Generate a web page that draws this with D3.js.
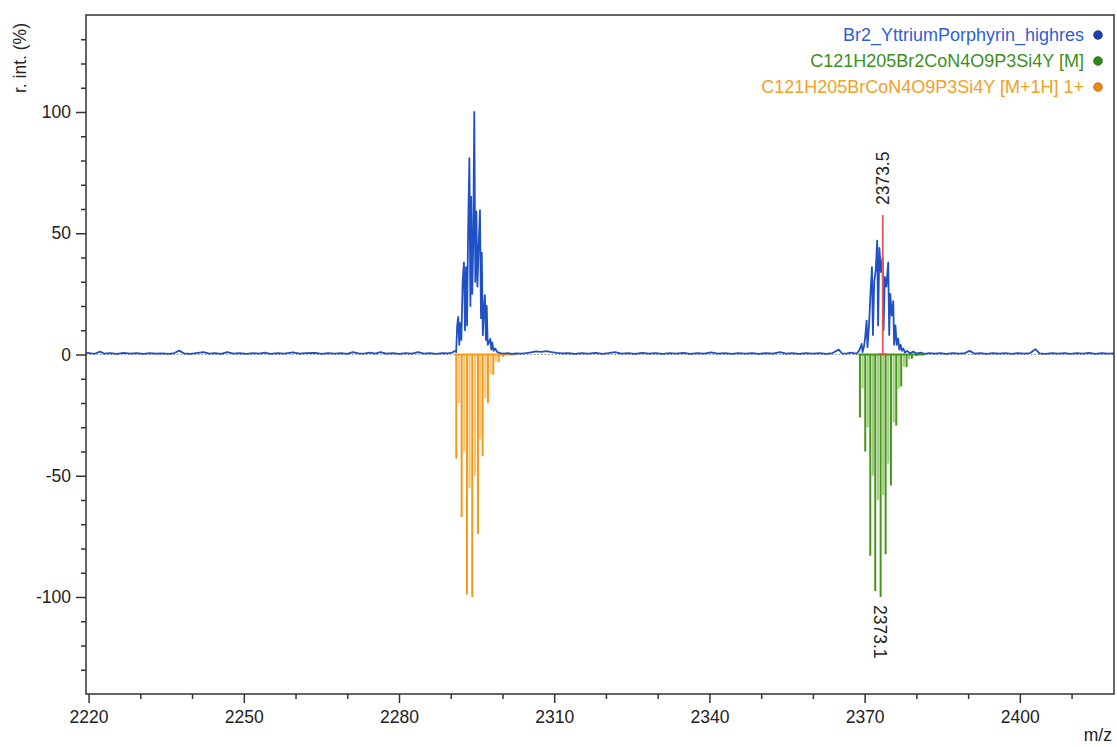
<!DOCTYPE html>
<html><head><meta charset="utf-8">
<script src="https://cdn.jsdelivr.net/npm/d3@7"></script>
<style>
html,body{margin:0;padding:0;background:#fff;}
svg{display:block;font-family:"Liberation Sans",Arial,sans-serif;}
</style></head>
<body>
<svg id="chart" width="1117" height="747"></svg>
<script>
// ---------------- DATA ----------------
const seriesNames = ["Br2_YttriumPorphyrin_highres", "C121H205Br2CoN4O9P3Si4Y [M]", "C121H205BrCoN4O9P3Si4Y [M+1H] 1+"];
const xMajorTicks = [2220, 2250, 2280, 2310, 2340, 2370, 2400];
const xMinorTicks = [2230, 2240, 2260, 2270, 2290, 2300, 2320, 2330, 2350, 2360, 2380, 2390, 2410];
const yMajorTicks = [-100, -50, 0, 50, 100];
const yMinorTicks = [-130, -120, -110, -90, -80, -70, -60, -40, -30, -20, -10, 10, 20, 30, 40, 60, 70, 80, 90, 110, 120, 130];

// measured spectrum (profile), [m/z, r. int. %]
const measuredBase1 = [[2219.5,0.8],[2220.5,0.5],[2221.3,0.4],[2222.2,1.2],[2223.0,0.4],[2224.2,0.6],[2225.5,0.3],[2226.8,0.7],[2228.0,0.4],[2229.3,0.6],[2230.6,0.3],[2231.8,0.6],[2233.0,0.4],[2234.3,0.5],[2235.6,0.3],[2236.6,0.6],[2237.5,1.6],[2238.4,0.5],[2239.6,0.3],[2240.8,0.6],[2242.2,1.0],[2243.3,0.4],[2244.5,0.6],[2245.6,0.3],[2246.8,1.0],[2248.0,0.4],[2249.2,0.6],[2250.5,0.3],[2251.7,0.6],[2253.0,0.4],[2254.0,0.8],[2255.2,0.3],[2256.5,0.6],[2257.8,0.4],[2259.5,0.9],[2260.8,0.4],[2262.0,0.6],[2263.8,0.7],[2265.0,0.3],[2266.3,0.6],[2267.6,0.4],[2268.8,0.6],[2270.0,0.3],[2271.1,1.0],[2272.3,0.4],[2273.4,0.5],[2274.4,0.8],[2275.4,0.4],[2276.4,1.0],[2277.5,0.4],[2278.8,0.6],[2280.0,0.3],[2281.3,0.6],[2282.5,0.4],[2283.7,1.0],[2284.8,0.4],[2286.0,0.6],[2287.2,0.3],[2288.4,0.6],[2289.5,0.5],[2290.4,0.9]];
const measuredPeak1 = [[2290.8,1.5],[2291.05,1.0],[2291.25,12],[2291.45,15.5],[2291.65,4],[2291.85,13],[2292.05,6],[2292.3,30],[2292.55,38],[2292.75,10],[2292.95,36],[2293.15,12],[2293.35,50],[2293.6,81],[2293.8,20],[2293.95,65],[2294.15,25],[2294.35,45],[2294.55,100],[2294.75,30],[2294.95,59],[2295.15,28],[2295.4,45],[2295.65,59.5],[2295.85,15],[2296.0,42],[2296.2,8],[2296.4,18],[2296.6,24.5],[2296.8,6],[2296.95,20],[2297.15,4],[2297.4,5],[2297.65,6.5],[2297.85,2],[2298.0,5],[2298.3,1.5],[2298.6,2.5]];
const measuredBase2 = [[2299.0,1.0],[2299.6,0.6],[2300.3,0.4],[2301.0,0.6],[2301.8,0.3],[2302.6,0.5],[2303.5,0.4],[2304.5,0.6],[2305.5,0.9],[2306.5,1.3],[2307.5,1.1],[2308.5,1.4],[2309.5,1.0],[2310.5,0.7],[2311.5,0.5],[2312.7,0.6],[2314.0,0.3],[2315.3,0.6],[2316.6,0.4],[2318.0,0.7],[2319.3,0.3],[2320.5,0.6],[2321.7,1.0],[2323.0,0.4],[2324.3,0.6],[2325.6,0.3],[2327.0,0.7],[2328.3,0.4],[2329.6,0.6],[2331.0,0.3],[2332.3,0.6],[2333.6,0.4],[2335.0,0.7],[2336.3,0.3],[2337.6,0.6],[2339.0,0.4],[2340.3,0.9],[2341.6,0.4],[2343.0,0.6],[2344.3,0.3],[2345.6,0.6],[2347.0,0.4],[2348.3,0.6],[2349.6,0.3],[2351.0,0.6],[2352.3,0.4],[2353.6,1.0],[2354.8,0.4],[2356.0,0.6],[2357.3,0.3],[2358.6,0.6],[2360.0,0.4],[2361.3,0.6],[2362.6,0.3],[2363.8,0.6],[2365.0,2.0],[2365.6,0.5],[2366.5,0.4],[2367.3,0.8],[2368.0,0.5]];
const measuredPeak2 = [[2368.5,0.5],[2368.9,1.5],[2369.2,3],[2369.42,4.4],[2369.6,1],[2369.9,3.5],[2370.15,8],[2370.38,14],[2370.55,3],[2370.85,12],[2371.15,26],[2371.41,36],[2371.6,8],[2371.85,30],[2372.15,35],[2372.43,47],[2372.6,12],[2372.85,44],[2373.15,34],[2373.47,40],[2373.65,10],[2373.9,32],[2374.2,28],[2374.56,38],[2374.75,8],[2374.95,25],[2375.25,16],[2375.53,22],[2375.7,4],[2375.95,12],[2376.2,4],[2376.49,6.5],[2376.7,2],[2376.95,4],[2377.2,1.5],[2377.46,2.5],[2377.8,0.8]];
const measuredBase3 = [[2378.2,1.5],[2378.8,0.5],[2379.4,1.2],[2380.0,0.4],[2380.8,0.8],[2381.6,0.3],[2382.5,0.6],[2383.5,0.4],[2384.6,0.6],[2385.8,0.3],[2387.0,0.6],[2388.2,0.4],[2389.4,0.6],[2390.3,1.5],[2391.2,0.4],[2392.4,0.6],[2393.6,0.3],[2394.8,0.6],[2396.0,0.4],[2397.2,0.6],[2398.4,0.3],[2399.6,0.6],[2400.8,0.4],[2402.0,0.6],[2403.0,2.2],[2403.8,0.5],[2405.0,0.3],[2406.2,0.6],[2407.4,0.4],[2408.6,0.6],[2409.8,0.3],[2411.0,0.6],[2412.2,0.4],[2413.4,0.7],[2414.6,0.3],[2415.8,0.6],[2417.0,0.4],[2418.2,0.5]];

// theoretical [M+1H] 1+ pattern (orange, plotted negative)
const orangeMz   = [2291.07, 2292.11, 2293.13, 2294.16, 2295.26, 2296.17, 2297.19, 2298.22, 2299.26, 2300.15, 2301.1];
const orangeInt  = [-43, -67, -99, -100, -74, -42, -20, -8.3, -3.2, -1.0, -0.3];
const orangeMz2  = [2291.6, 2292.6, 2293.65, 2294.7, 2295.7, 2296.7, 2297.7, 2298.7];
const orangeInt2 = [-20, -40, -55, -50, -35, -18, -8, -3];

// theoretical [M] pattern (green, plotted negative)
const greenMz   = [2369.09, 2370.12, 2371.09, 2372.05, 2373.09, 2374.06, 2375.08, 2376.11, 2377.07, 2378.11, 2379.14, 2380.05];
const greenInt  = [-26, -40, -83, -97.5, -100, -82.4, -54, -29.3, -13.2, -5.2, -1.8, -0.6];
const greenMz2  = [2369.6, 2370.6, 2371.6, 2372.57, 2373.6, 2374.57, 2375.6, 2376.6, 2377.6, 2378.6];
const greenInt2 = [-14, -30, -50, -60, -58, -45, -28, -14, -5, -2];

// peak annotations
const markMz = 2373.5, markInt = 57.5;
const labelTop = "2373.5", labelBottom = "2373.1";
const labelBottomMz = 2373.09, labelBottomInt = -100;

// ---------------- LAYOUT ----------------
const svg = d3.select("#chart");
const L = 86, T = 15, R = 1114, B = 694;
const x = d3.scaleLinear().domain([2219.5, 2418.2]).range([L, R]);
const y = d3.scaleLinear().domain([-140, 140]).range([B, T]);
const fontSize = 17.5;

const colBlue = "#2050c6", colOrange = "#f59a17", colOrangeLight = "#f9c67f";
const colGreen = "#45961a", colGreenLight = "#a3cf82", colRed = "#e4525c";

svg.append("defs").append("clipPath").attr("id", "clip")
  .append("rect").attr("x", L).attr("y", T).attr("width", R - L).attr("height", B - T);

const plot = svg.append("g").attr("clip-path", "url(#clip)");

// zero dotted line
plot.append("line").attr("x1", L).attr("x2", R).attr("y1", y(0)).attr("y2", y(0))
  .attr("stroke", "#888").attr("stroke-width", 1).attr("stroke-dasharray", "1.5,2");

// stick pattern as a connected path (baseline - peak - baseline)
function stickPath(mz, it) {
  let p = "M" + x(mz[0] - 0.3) + "," + y(0);
  mz.forEach((m, i) => {
    p += "L" + x(m) + "," + y(0) + "L" + x(m) + "," + y(it[i]) + "L" + x(m) + "," + y(0);
  });
  p += "L" + x(mz[mz.length - 1] + 1.5) + "," + y(0);
  return p;
}
function sticks(g, mz, it, color, w) {
  g.selectAll(null).data(mz).enter().append("line")
    .attr("x1", d => x(d)).attr("x2", d => x(d))
    .attr("y1", y(0)).attr("y2", (d, i) => y(it[i]))
    .attr("stroke", color).attr("stroke-width", w);
}
sticks(plot, orangeMz2, orangeInt2, colOrangeLight, 2.2);
sticks(plot, greenMz2, greenInt2, colGreenLight, 2.2);
plot.append("path").attr("d", stickPath(orangeMz, orangeInt)).attr("fill", "none")
  .attr("stroke", colOrange).attr("stroke-width", 2);
plot.append("path").attr("d", stickPath(greenMz, greenInt)).attr("fill", "none")
  .attr("stroke", colGreen).attr("stroke-width", 2);

// measured spectrum
const measured = [].concat(measuredBase1, measuredPeak1, measuredBase2, measuredPeak2, measuredBase3);
const line = d3.line().x(d => x(d[0])).y(d => y(d[1]));
plot.append("path").datum(measured).attr("d", line).attr("fill", "none")
  .attr("stroke", colBlue).attr("stroke-width", 1.8).attr("stroke-linejoin", "round");

// red peak marker
plot.append("line").attr("x1", x(markMz)).attr("x2", x(markMz)).attr("y1", y(0)).attr("y2", y(markInt))
  .attr("stroke", colRed).attr("stroke-width", 1.8);
plot.append("line").attr("x1", x(markMz - 0.8)).attr("x2", x(markMz + 0.8)).attr("y1", y(0) - 0.5).attr("y2", y(0) - 0.5)
  .attr("stroke", colRed).attr("stroke-width", 1.5);

// peak labels
svg.append("text").attr("transform", `translate(${x(markMz) + 6},${y(markInt) - 10}) rotate(-90)`)
  .attr("font-size", fontSize).attr("fill", "#222").text(labelTop);
svg.append("text").attr("transform", `translate(${x(labelBottomMz) - 7},${y(labelBottomInt) + 8}) rotate(90)`)
  .attr("font-size", fontSize).attr("fill", "#222").text(labelBottom);

// ---------------- AXES ----------------
const axisCol = "#333";
function styleAxis(g) {
  g.select(".domain").remove();
  g.selectAll("line").attr("stroke", axisCol).attr("stroke-width", 1.5);
  g.selectAll("text").attr("font-size", fontSize).attr("fill", "#222")
    .attr("font-family", '"Liberation Sans", Arial, sans-serif');
}
const plainFmt = d => String(d);
svg.append("g").attr("transform", `translate(${L},0)`)
  .call(d3.axisLeft(y).tickValues(yMajorTicks).tickSize(10).tickPadding(5).tickFormat(plainFmt))
  .call(styleAxis);
svg.append("g").attr("transform", `translate(${L},0)`)
  .call(d3.axisLeft(y).tickValues(yMinorTicks).tickSize(5).tickFormat(""))
  .call(styleAxis);
svg.append("g").attr("transform", `translate(0,${B})`)
  .call(d3.axisBottom(x).tickValues(xMajorTicks).tickSize(9).tickPadding(8).tickFormat(plainFmt))
  .call(styleAxis);
svg.append("g").attr("transform", `translate(0,${B})`)
  .call(d3.axisBottom(x).tickValues(xMinorTicks).tickSize(5).tickFormat(""))
  .call(styleAxis);

// frame
svg.append("rect").attr("x", L).attr("y", T).attr("width", R - L).attr("height", B - T)
  .attr("fill", "none").attr("stroke", axisCol).attr("stroke-width", 1.5);

// axis titles
svg.append("text").attr("transform", "translate(26,93) rotate(-90)")
  .attr("font-size", fontSize).attr("fill", "#222").text("r. int. (%)");
svg.append("text").attr("x", 1112).attr("y", 741).attr("text-anchor", "end")
  .attr("font-size", fontSize).attr("fill", "#222").text("m/z");

// ---------------- LEGEND ----------------
const legTextCols = ["#2d5fd6", "#3d8f1c", "#f4a024"];
const legDotCols = ["#1b3fb5", "#2f8a18", "#f08a12"];
const legDotStroke = ["#0f2a80", "#1f6210", "#b8640a"];
const legY = [35, 61, 87];
const leg = svg.append("g");
leg.selectAll("text").data(seriesNames).enter().append("text")
  .attr("x", 1084).attr("y", (d, i) => legY[i]).attr("dy", "0.35em").attr("text-anchor", "end")
  .attr("font-size", 18).attr("fill", (d, i) => legTextCols[i]).text(d => d);
leg.selectAll("circle").data(seriesNames).enter().append("circle")
  .attr("cx", 1098).attr("cy", (d, i) => legY[i]).attr("r", 4.3)
  .attr("fill", (d, i) => legDotCols[i]).attr("stroke", (d, i) => legDotStroke[i]).attr("stroke-width", 0.8);
</script>
</body></html>
